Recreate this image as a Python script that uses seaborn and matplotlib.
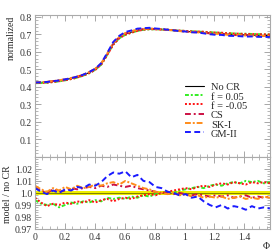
import numpy as np
import pandas as pd
import seaborn as sns
import matplotlib
matplotlib.use("Agg")
import matplotlib.pyplot as plt
from matplotlib.ticker import AutoMinorLocator, FixedLocator

# asse Phi (40 campioni tra 0 e pi/2)
phi = np.linspace(0, np.pi / 2, 40)

# curva normalizzata di riferimento (No CR)
no_cr = [0.423, 0.425, 0.428, 0.431, 0.436, 0.441, 0.448, 0.456, 0.467, 0.481,
         0.500, 0.530, 0.585, 0.645, 0.680, 0.700, 0.712, 0.721, 0.727, 0.730,
         0.729, 0.727, 0.725, 0.722, 0.719, 0.716, 0.714, 0.712, 0.710, 0.707,
         0.705, 0.703, 0.700, 0.698, 0.697, 0.696, 0.695, 0.694, 0.693, 0.693]

# rapporti modello / no CR
r_f_pos = [0.994, 0.991, 0.990, 0.991, 0.988, 0.990, 0.992, 0.991, 0.993, 0.992,
           0.994, 0.993, 0.996, 0.995, 0.996, 0.995, 0.997, 0.996, 0.998, 0.997,
           0.999, 1.000, 1.001, 1.000, 1.002, 1.003, 1.004, 1.005, 1.004, 1.006,
           1.007, 1.006, 1.008, 1.009, 1.008, 1.010, 1.009, 1.010, 1.008, 1.009]
r_f_neg = [0.996, 0.992, 0.989, 0.991, 0.990, 0.992, 0.991, 0.993, 0.992, 0.994,
           0.992, 0.994, 0.995, 0.993, 0.995, 0.996, 0.995, 0.997, 0.998, 0.999,
           0.998, 1.000, 1.001, 1.002, 1.003, 1.004, 1.003, 1.005, 1.006, 1.005,
           1.007, 1.008, 1.007, 1.009, 1.008, 1.007, 1.009, 1.008, 1.009, 1.008]
r_cs = [1.005, 1.002, 1.000, 1.003, 1.001, 1.002, 1.004, 1.003, 1.004, 1.005,
        1.004, 1.006, 1.005, 1.007, 1.006, 1.005, 1.006, 1.004, 1.003, 1.002,
        1.001, 1.000, 1.000, 0.999, 1.000, 0.999, 0.998, 0.999, 0.998, 0.997,
        0.998, 0.997, 0.998, 0.996, 0.997, 0.998, 0.996, 0.997, 0.996, 0.997]
r_sk = [1.006, 1.003, 1.001, 1.004, 1.002, 1.005, 1.003, 1.006, 1.004, 1.005,
        1.007, 1.006, 1.008, 1.009, 1.007, 1.010, 1.008, 1.006, 1.004, 1.003,
        1.001, 1.000, 0.999, 1.000, 0.998, 0.999, 0.997, 0.998, 0.996, 0.997,
        0.996, 0.997, 0.995, 0.996, 0.997, 0.995, 0.996, 0.995, 0.997, 0.996]
r_gm = [1.004, 1.001, 0.999, 1.002, 1.000, 1.003, 1.002, 1.005, 1.004, 1.007,
        1.006, 1.009, 1.014, 1.017, 1.016, 1.018, 1.013, 1.015, 1.010, 1.009,
        1.005, 1.004, 1.001, 1.000, 0.998, 0.999, 0.996, 0.997, 0.993, 0.990,
        0.988, 0.990, 0.987, 0.989, 0.988, 0.986, 0.989, 0.987, 0.988, 0.987]

etichette = ["f = 0.05", "f = -0.05", "CS", "SK-I", "GM-II"]
rapporti = [r_f_pos, r_f_neg, r_cs, r_sk, r_gm]
colori = ["#33ee22", "#ff1111", "#cc1144", "#ff8c1a", "#1a1aff"]
stili = [(0, (2, 1, 1, 1)), (0, (1, 1)), (0, (3, 1.5, 1, 1.5)), (0, (3, 1, 1, 1)), (0, (3, 1.8))]

sns.set_style("ticks")
plt.rcParams["font.family"] = ["Liberation Serif", "DejaVu Serif"]

fig = plt.figure(figsize=(2.8, 2.53), dpi=100)
ax1 = fig.add_axes([0.125, 0.376, 0.839, 0.561])
ax2 = fig.add_axes([0.125, 0.091, 0.839, 0.285])

# pannello superiore
sns.lineplot(x=phi, y=no_cr, ax=ax1, color="black", lw=0.8, label="No CR")
for lab, r, c, ls in zip(etichette, rapporti, colori, stili):
    modello = np.array(no_cr) * np.array(r)
    sns.lineplot(x=phi, y=modello, ax=ax1, color=c, lw=1.4, linestyle=ls, label=lab)

# pannello inferiore
ax2.axhspan(0.9985, 1.0015, color="#eeee00", lw=0)
sns.lineplot(x=phi, y=np.ones_like(phi), ax=ax2, color="#555500", lw=0.5)
for lab, r, c, ls in zip(etichette, rapporti, colori, stili):
    sns.lineplot(x=phi, y=r, ax=ax2, color=c, lw=1.4, linestyle=ls)

ax1.set_xlim(0, np.pi / 2)
ax2.set_xlim(0, np.pi / 2)
ax1.set_ylim(0, 0.81)
ax2.set_ylim(0.97, 1.03)
ax1.yaxis.set_major_locator(FixedLocator([0.1, 0.2, 0.3, 0.4, 0.5, 0.6, 0.7, 0.8]))
ax2.yaxis.set_major_locator(FixedLocator([0.97, 0.98, 0.99, 1.0, 1.01, 1.02]))
ax1.set_yticklabels(["0.1", "0.2", "0.3", "0.4", "0.5", "0.6", "0.7", "0.8"])
ax2.set_yticklabels(["0.97", "0.98", "0.99", "1.0", "1.01", "1.02"])
ax2.set_xticks([0, 0.2, 0.4, 0.6, 0.8, 1.0, 1.2, 1.4])
ax2.set_xticklabels(["0", "0.2", "0.4", "0.6", "0.8", "1", "1.2", "1.4"])
ax1.set_xticks([0, 0.2, 0.4, 0.6, 0.8, 1.0, 1.2, 1.4])
ax1.set_xticklabels([])

for ax in (ax1, ax2):
    ax.xaxis.set_minor_locator(AutoMinorLocator(4))
    ax.yaxis.set_minor_locator(AutoMinorLocator(5))
    ax.tick_params(which="both", direction="in", top=True, right=True,
                   colors="#999999", labelcolor="#333333", labelsize=7, pad=2)
    ax.tick_params(which="major", length=4, width=0.6)
    ax.tick_params(which="minor", length=2, width=0.5)
    for s in ax.spines.values():
        s.set_color("#aaaaaa")
        s.set_linewidth(0.8)

ax1.set_ylabel("normalized", fontsize=7, loc="top", labelpad=3)
ax2.set_ylabel("model / no CR", fontsize=7, labelpad=2)
ax2.set_xlabel("Φ", fontsize=7, loc="right", labelpad=0)
ax1.set_xlabel("")

ax1.legend(loc="lower right", bbox_to_anchor=(0.93, 0.09), frameon=False, fontsize=7.5,
           handlelength=1.8, handletextpad=0.7, labelspacing=0.0, borderaxespad=0.2)

fig.savefig("out.png", dpi=100)
